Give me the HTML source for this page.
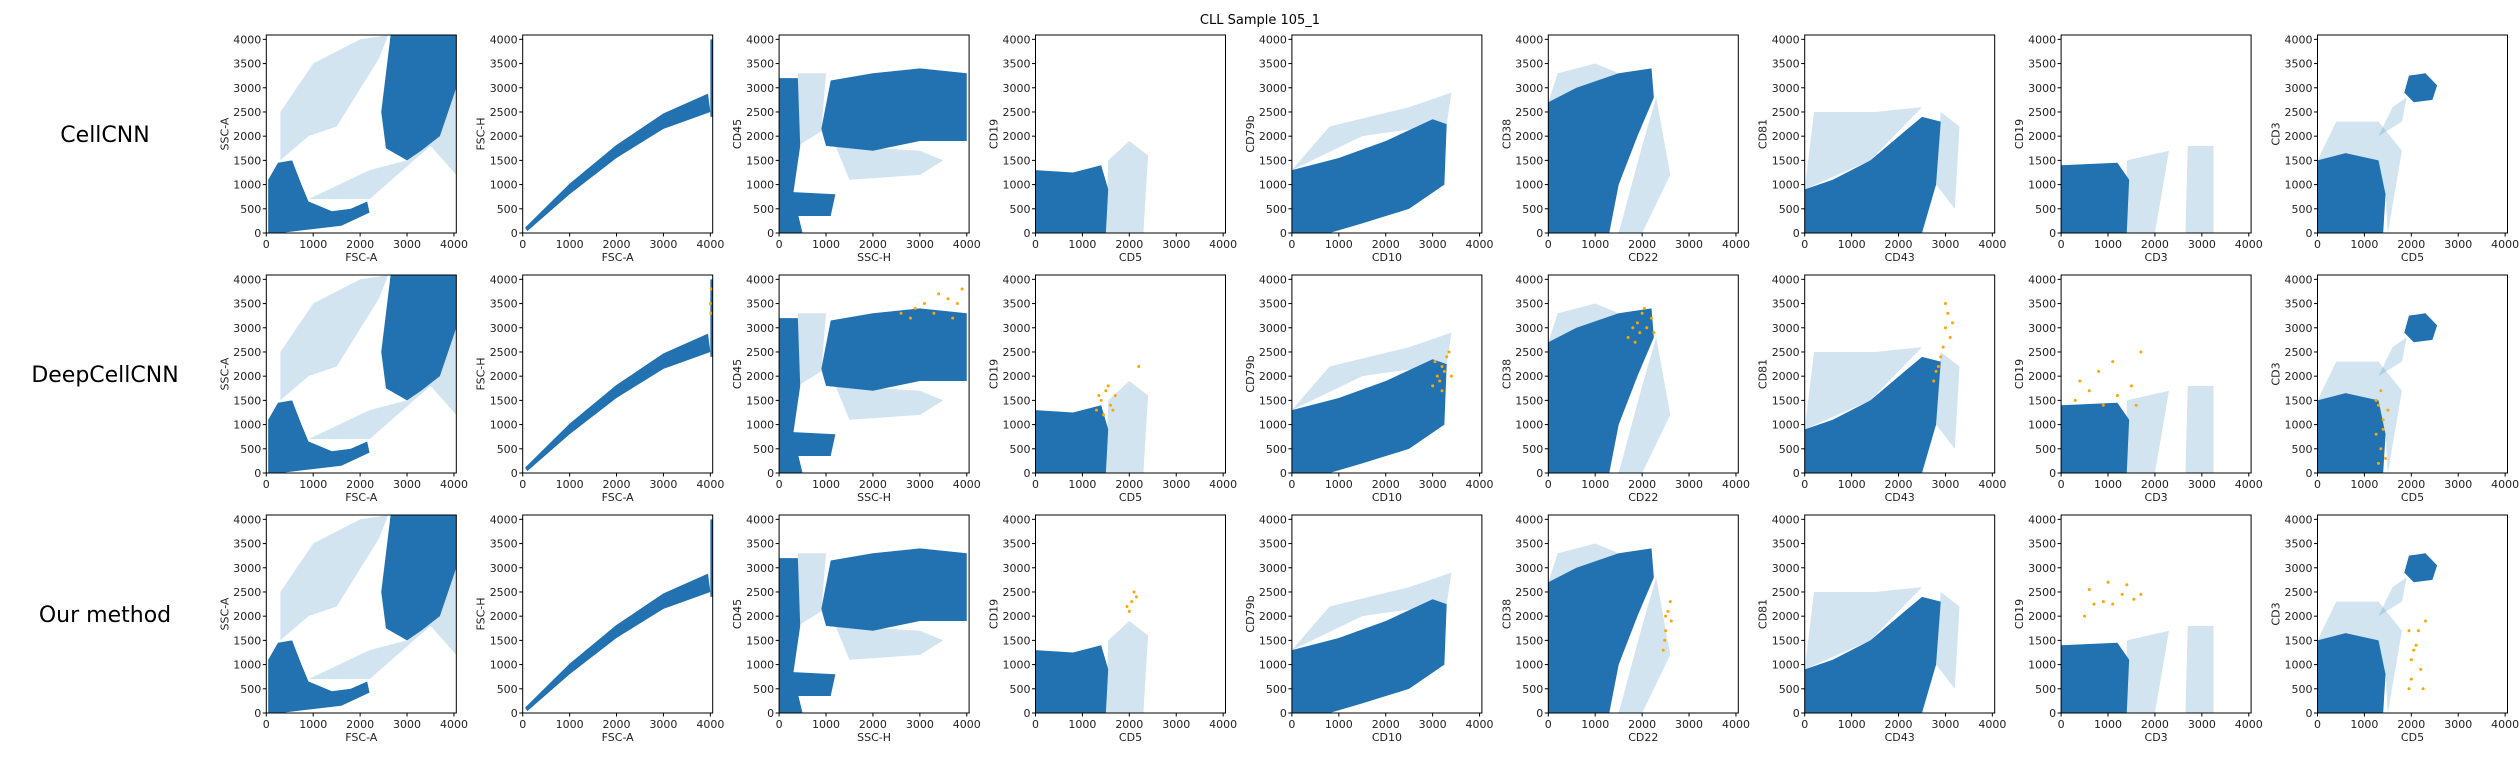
<!DOCTYPE html>
<html><head><meta charset="utf-8"><style>
body{margin:0;background:#fff;width:2520px;height:756px;overflow:hidden;font-family:"DejaVu Sans","Liberation Sans",sans-serif}
</style></head><body>
<svg id="fig" width="2520" height="756" xmlns="http://www.w3.org/2000/svg">
<text x="1260" y="24" font-size="13" text-anchor="middle" fill="#000">CLL Sample 105_1</text>
</svg>
<script>
const rowNames=["CellCNN","DeepCellCNN","Our method"];
const xLabels=["FSC-A","FSC-A","SSC-H","CD5","CD10","CD22","CD43","CD3","CD5"];
const yLabels=["SSC-A","FSC-H","CD45","CD19","CD79b","CD38","CD81","CD19","CD3"];
const yTicks=[0,500,1000,1500,2000,2500,3000,3500,4000];
const xTicks=[0,1000,2000,3000,4000];
const densePolys=[
 [[[40,0],[40,1100],[250,1450],[550,1500],[750,1000],[900,650],[1400,450],[1800,500],[2150,650],[2200,420],[1600,150],[800,60],[300,0]],[[2550,1750],[2450,2500],[2650,4090],[4050,4090],[4050,3000],[3700,2000],[3300,1700],[3000,1500]]],
 [[[50,110],[1000,1020],[2000,1820],[3000,2470],[3950,2880],[4000,2500],[3000,2150],[2000,1550],[1000,800],[100,40]],[[4000,2400],[4000,4000],[4050,4000],[4050,2400]]],
 [[[900,2150],[1100,3150],[2000,3300],[3000,3400],[4000,3300],[4000,1900],[3000,1900],[2000,1700],[1000,1800]],[[0,0],[0,3200],[400,3200],[450,1800],[300,800],[500,0]],[[200,350],[200,850],[1200,800],[1100,350]]],
 [[[0,0],[0,1300],[800,1250],[1400,1400],[1550,900],[1500,0]]],
 [[[0,0],[0,1300],[1000,1550],[2000,1900],[3000,2350],[3300,2250],[3250,1000],[2500,500],[1500,200],[800,0]]],
 [[[0,0],[0,2700],[600,3000],[1500,3300],[2200,3400],[2250,2800],[1900,2000],[1500,1000],[1300,0]]],
 [[[0,0],[0,900],[600,1100],[1400,1500],[2500,2400],[2900,2300],[2800,1000],[2500,0]]],
 [[[0,0],[0,1400],[1200,1450],[1450,1100],[1400,0]]],
 [[[0,0],[0,1500],[600,1650],[1300,1500],[1450,800],[1400,0]],[[1850,2900],[1950,3250],[2300,3300],[2550,3050],[2450,2750],[2050,2700]]]
];
const sparsePolys=[
 [[[300,1500],[900,2000],[1500,2200],[2400,3600],[2600,4090],[2000,4000],[1000,3500],[300,2500]],[[900,700],[2200,700],[3500,1800],[4050,1200],[4050,3000],[3000,1500],[2200,1300]]],
 [],
 [[[400,1800],[900,2100],[1000,3300],[400,3300]],[[1200,1800],[3000,1700],[3500,1500],[3000,1200],[1500,1100]]],
 [[[1500,0],[1550,1500],[2000,1900],[2400,1600],[2300,0]]],
 [[[0,1300],[1500,2000],[3300,2250],[3400,2900],[2500,2600],[800,2200]]],
 [[[0,2700],[200,3300],[1000,3500],[1500,3300]],[[1500,0],[2000,1800],[2300,2800],[2600,1200],[2000,0]]],
 [[[0,900],[200,2500],[1500,2500],[2500,2600],[1400,1500]],[[2800,1000],[2900,2500],[3300,2200],[3200,500]]],
 [[[1400,0],[1400,1500],[2300,1700],[2000,0]],[[2650,0],[2700,1800],[3250,1800],[3250,0]]],
 [[[0,1500],[400,2300],[1300,2300],[1800,1700],[1500,0],[1450,800]],[[1300,2000],[1600,2600],[1900,2800],[1800,2300]]]
];
const orangeRow2=[
 [],[[4000,3500],[4020,3800],[4010,3300]],
 [[2600,3300],[2900,3400],[3100,3500],[3300,3300],[3600,3600],[3800,3500],[3900,3800],[3400,3700],[2800,3200],[3700,3200]],
 [[1300,1300],[1400,1500],[1500,1700],[1600,1400],[1700,1600],[1450,1200],[1550,1800],[1650,1300],[1350,1600],[2200,2200]],
 [[3000,1800],[3100,2000],[3200,2200],[3300,2400],[3150,1900],[3250,2100],[3050,2300],[3350,2500],[3400,2000],[3200,1700]],
 [[1700,2800],[1800,3000],[1900,3100],[2000,3300],[2100,3000],[2200,3200],[1950,2900],[2050,3400],[1850,2700],[2250,2900]],
 [[2750,1900],[2850,2200],[2950,2600],[3000,3000],[3050,3300],[2900,2400],[3100,2800],[2800,2100],[3000,3500],[3150,3100]],
 [[300,1500],[600,1700],[900,1400],[1200,1600],[1500,1800],[800,2100],[1100,2300],[1700,2500],[400,1900],[1600,1400]],
 [[1300,200],[1350,500],[1250,800],[1400,1100],[1300,1400],[1350,1700],[1450,300],[1400,900],[1500,1300],[1250,1500]]
];
const orangeRow3=[
 [],[],[],
 [[1950,2200],[2050,2300],[2150,2400],[2000,2100],[2100,2500]],
 [],
 [[2450,1300],[2500,1700],[2550,2100],[2600,2300],[2480,1500],[2620,1900],[2500,2000]],
 [],
 [[500,2000],[700,2250],[900,2300],[1100,2250],[1300,2450],[1550,2350],[1700,2450],[1000,2700],[1400,2650],[600,2550]],
 [[1950,500],[2000,700],[2000,1100],[2050,1300],[2100,1400],[2150,1700],[2200,900],[1950,1700],[2250,500],[2300,1900]]
];
const orangeRows=[[],orangeRow2,orangeRow3];
const ns="http://www.w3.org/2000/svg";
const svg=document.getElementById("fig");
const L0=266.3,DX=256.4,T0=35,DY=240,W=190,H=198,XMAX=4050,YMAX=4090;
function mk(tag,attrs,parent){const e=document.createElementNS(ns,tag);for(const k in attrs)e.setAttribute(k,attrs[k]);(parent||svg).appendChild(e);return e;}
for(let r=0;r<3;r++){
 const t=mk("text",{x:105,y:T0+r*DY+H/2+8,"font-size":22,"text-anchor":"middle",fill:"#000"});
 
 
 t.textContent=rowNames[r];
 for(let c=0;c<9;c++){
  const left=L0+c*DX,top=T0+r*DY;
  const sx=v=>left+v/XMAX*W, sy=v=>top+H-v/YMAX*H;
  const g=mk("g",{});
  
  
  const cid="c"+r+"_"+c;
  const cp=mk("clipPath",{id:cid},g);mk("rect",{x:left,y:top,width:W,height:H},cp);
  const pg=mk("g",{"clip-path":"url(#"+cid+")"},g);
  sparsePolys[c].forEach(p=>{const e=mk("polygon",{points:p.map(q=>sx(q[0])+","+sy(q[1])).join(" "),fill:"#1f77b4","fill-opacity":0.2},pg);
   
   });
  densePolys[c].forEach(p=>{const e=mk("polygon",{points:p.map(q=>sx(q[0])+","+sy(q[1])).join(" "),fill:"#2271b1"},pg);
   
   });
  (orangeRows[r][c]||[]).forEach(q=>{const e=mk("circle",{cx:sx(q[0]),cy:sy(q[1]),r:1.5,fill:"#ffa500"},pg);
   
   });
  mk("rect",{x:left,y:top,width:W,height:H,fill:"none",stroke:"#000","stroke-width":1},g);
  yTicks.forEach(v=>{const y=sy(v);mk("line",{x1:left-3.5,x2:left,y1:y,y2:y,stroke:"#000"},g);
   const tx=mk("text",{x:left-5,y:y+4,"font-size":11,"text-anchor":"end",fill:"#222"},g);
   
   
   tx.textContent=v;});
  xTicks.forEach(v=>{const x=sx(v);mk("line",{x1:x,x2:x,y1:top+H,y2:top+H+3.5,stroke:"#000"},g);
   const tx=mk("text",{x:x,y:top+H+15,"font-size":11,"text-anchor":"middle",fill:"#222"},g);
   
   
   tx.textContent=v;});
  const xl=mk("text",{x:left+W/2,y:top+H+28,"font-size":11,"text-anchor":"middle",fill:"#222"},g);
  
  
  xl.textContent=xLabels[c];
  const yl=mk("text",{x:0,y:0,"font-size":11,"text-anchor":"middle",fill:"#222",transform:"translate("+(left-38)+","+(top+H/2)+") rotate(-90)"},g);
  
  
  yl.textContent=yLabels[c];
 }
}
</script>
</body></html>
